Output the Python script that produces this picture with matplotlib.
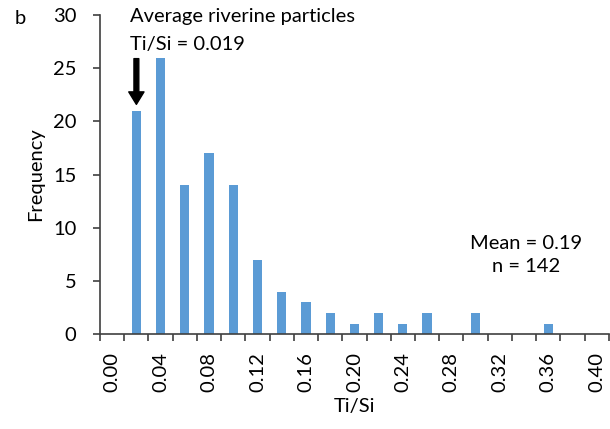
import matplotlib.pyplot as plt
import numpy as np

plt.rcParams['font.family'] = ['Lato', 'DejaVu Sans']

# bins of Ti/Si (width 0.02) and counts per bin
bins = [0.00, 0.02, 0.04, 0.06, 0.08, 0.10, 0.12, 0.14, 0.16, 0.18, 0.20,
        0.22, 0.24, 0.26, 0.28, 0.30, 0.32, 0.34, 0.36, 0.38, 0.40]
counts = [0, 21, 26, 14, 17, 14, 7, 4, 3, 2, 1,
          2, 1, 2, 0, 2, 0, 0, 1, 0, 0]
riverine_bin = 0.02
yticks = [0, 5, 10, 15, 20, 25, 30]

fs = 14.5

fig = plt.figure(figsize=(6.1, 4.29), dpi=100)
ax = fig.add_axes([0.164, 0.221, 0.834, 0.744])

pos = np.arange(len(bins))
ax.bar(pos, counts, width=0.38, color='#5B9BD5', zorder=2)

ax.set_xlim(-0.5, len(bins) - 0.5)
ax.set_ylim(0, 30)
ax.set_yticks(yticks)
ax.set_xticks(pos[::2])
ax.set_xticklabels(['%.2f' % b for b in bins[::2]], rotation=90, fontsize=fs)
ax.set_xticks(np.arange(-0.5, len(bins), 1), minor=True)
ax.tick_params(axis='x', which='major', length=0, pad=13)
ax.tick_params(axis='x', which='minor', length=5, width=1.2, color='#404040')
ax.tick_params(axis='y', length=5, width=1.2, color='#404040', labelsize=fs, pad=12)

for s in ['top', 'right']:
    ax.spines[s].set_visible(False)
for s in ['left', 'bottom']:
    ax.spines[s].set_linewidth(1.2)
    ax.spines[s].set_color('#404040')

ax.set_xlabel('Ti/Si', fontsize=fs, labelpad=4)
ax.set_ylabel('Frequency', fontsize=fs, labelpad=6)

# arrow marking the average riverine particle ratio
i = bins.index(riverine_bin)
ax.annotate('', xy=(i, counts[i] + 0.6), xytext=(i, counts[i] + 4.9),
            arrowprops=dict(facecolor='black', edgecolor='black', width=3.5,
                            headwidth=11, headlength=9))

ax.text(0.75, 29.9, 'Average riverine particles', fontsize=fs, va='center', ha='left')
ax.text(0.75, 27.2, 'Ti/Si = 0.019', fontsize=fs, va='center', ha='left')
ax.text(17.1, 7.45, 'Mean = 0.19\nn = 142', fontsize=fs, va='center', ha='center',
        multialignment='center', linespacing=1.45)

fig.text(0.034, 0.958, 'b', fontsize=fs, va='center', ha='center')

fig.savefig('out.png', dpi=100)
